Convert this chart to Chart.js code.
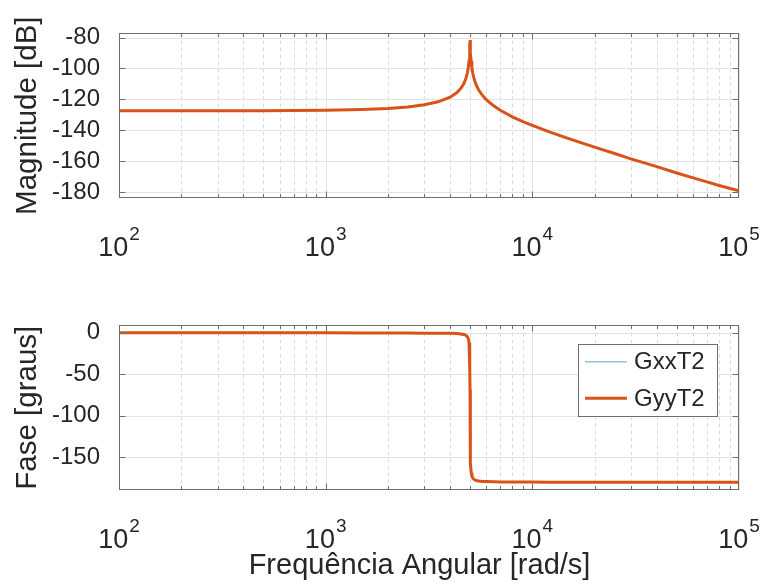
<!DOCTYPE html>
<html>
<head>
<meta charset="utf-8">
<script src="https://cdn.jsdelivr.net/npm/chart.js@4.4.1/dist/chart.umd.min.js"></script>
<style>
  body { margin: 0; background: #fff; }
  #wrap { position: relative; width: 764px; height: 585px; }
  canvas { position: absolute; left: 0; }
</style>
</head>
<body>
<div id="wrap">
  <canvas id="magChart" width="764" height="292" style="top:0"></canvas>
  <canvas id="phaseChart" width="764" height="293" style="top:292px"></canvas>
</div>
<script>
// Bode data, frequency in rad/s
const omega = [100, 150, 200, 300, 500, 700, 1000, 1500, 2000, 2500, 3000, 3500, 4000, 4300, 4500,
  4650, 4750, 4850, 4900, 4940, 4970, 4985, 4995, 5000, 5005, 5015, 5030, 5060, 5100, 5150, 5250,
  5350, 5500, 5750, 6000, 6500, 7000, 8000, 9000, 10000, 12000, 15000, 20000, 25000, 30000,
  40000, 50000, 60000, 70000, 80000, 100000];

const gyyMag = [-127.4, -127.39, -127.39, -127.37, -127.31, -127.23, -127.05, -126.58, -125.89, -124.9,
  -123.52, -121.55, -118.53, -115.71, -112.98, -110.01, -107.18, -102.83, -99.35, -95.14, -89.67,
  -85.3, -82.12, -81.5, -82.12, -85.32, -89.73, -95.25, -99.53, -103.09, -107.61, -110.62, -113.96,
  -117.57, -120.27, -124.18, -127.05, -131.26, -134.4, -136.8, -140.9, -145.4, -150.9, -155.0,
  -158.5, -163.5, -167.6, -170.8, -173.4, -175.7, -179.2];

const gyyPhase = [0, 0, 0, -0.01, -0.02, -0.03, -0.06, -0.12, -0.2, -0.32, -0.45, -0.66, -0.65, -0.96, -1.38,
  -2.0, -2.83, -4.76, -7.15, -11.86, -22.83, -40.1, -68.5, -90, -111.5, -139.9, -157.2, -168.2,
  -172.7, -175.1, -177.0, -177.9, -178.5, -179.0, -179.2, -179.45, -179.6, -179.7, -179.77, -179.8,
  -179.85, -179.9, -179.92, -179.94, -179.95, -179.96, -179.97, -179.97, -179.98, -179.98, -179.98];

// GxxT2 sits exactly underneath GyyT2
const gxxMag = gyyMag.slice();
const gxxPhase = gyyPhase.slice();

const xDecades = [100, 1000, 10000, 100000];
const magTicks = [-180, -160, -140, -120, -100, -80];
const phaseTicks = [-150, -100, -50, 0];

const FONT = "'Liberation Sans', Arial, Helvetica, sans-serif";
const INK = '#262626';

function pts(ys) {
  return omega.map((w, i) => ({ x: w, y: ys[i] }));
}

// MATLAB-like axes: grid, box, inward ticks and 10^n labels
const matlabAxes = {
  id: 'matlabAxes',
  beforeDatasetsDraw(chart) {
    const { ctx, chartArea: a, scales: { x, y } } = chart;
    ctx.save();
    ctx.lineWidth = 1;
    // minor x grid
    ctx.strokeStyle = '#dcdcdc';
    ctx.setLineDash([4, 3]);
    xDecades.slice(0, -1).forEach(d => {
      for (let m = 2; m <= 9; m++) {
        const px = Math.round(x.getPixelForValue(d * m)) + 0.5;
        ctx.beginPath(); ctx.moveTo(px, a.top); ctx.lineTo(px, a.bottom); ctx.stroke();
      }
    });
    ctx.setLineDash([]);
    ctx.strokeStyle = '#e3e3e3';
    xDecades.forEach(d => {
      const px = Math.round(x.getPixelForValue(d)) + 0.5;
      ctx.beginPath(); ctx.moveTo(px, a.top); ctx.lineTo(px, a.bottom); ctx.stroke();
    });
    y.ticks.forEach(t => {
      const py = Math.round(y.getPixelForValue(t.value)) + 0.5;
      ctx.beginPath(); ctx.moveTo(a.left, py); ctx.lineTo(a.right, py); ctx.stroke();
    });
    ctx.restore();
  },
  afterDatasetsDraw(chart) {
    const { ctx, chartArea: a, scales: { x, y } } = chart;
    ctx.save();
    ctx.strokeStyle = '#6e6e6e';
    ctx.lineWidth = 1;
    const L = Math.round(a.left) + 0.5, R = Math.round(a.right) - 0.5;
    const T = Math.round(a.top) + 0.5, B = Math.round(a.bottom) - 0.5;
    ctx.strokeRect(L, T, R - L, B - T);
    ctx.beginPath();
    xDecades.slice(0, -1).forEach(d => {
      for (let m = 1; m <= 9; m++) {
        const len = m === 1 ? 6 : 3.5;
        const px = Math.round(x.getPixelForValue(d * m)) + 0.5;
        ctx.moveTo(px, B); ctx.lineTo(px, B - len);
        ctx.moveTo(px, T); ctx.lineTo(px, T + len);
      }
    });
    y.ticks.forEach(t => {
      const py = Math.round(y.getPixelForValue(t.value)) + 0.5;
      ctx.moveTo(L, py); ctx.lineTo(L + 6, py);
      ctx.moveTo(R, py); ctx.lineTo(R - 6, py);
    });
    ctx.stroke();
    ctx.restore();
  },
  afterDraw(chart) {
    const { ctx, chartArea: a, scales: { x } } = chart;
    ctx.save();
    ctx.fillStyle = INK;
    ctx.textBaseline = 'alphabetic';
    xDecades.forEach(d => {
      const px = x.getPixelForValue(d);
      const exp = String(Math.round(Math.log10(d)));
      ctx.font = '27px ' + FONT;
      const wBase = ctx.measureText('10').width;
      ctx.font = '19px ' + FONT;
      const wExp = ctx.measureText(exp).width;
      const start = px - (wBase + wExp + 1) / 2;
      ctx.font = '27px ' + FONT;
      ctx.fillText('10', start, a.bottom + 58);
      ctx.font = '19px ' + FONT;
      ctx.fillText(exp, start + wBase + 1, a.bottom + 41.5);
    });
    // x axis title (only on the lower plot)
    const xt = chart.options.plugins.matlabAxes.xTitle;
    if (xt) {
      ctx.font = '29px ' + FONT;
      ctx.textAlign = 'center';
      ctx.fillText(xt, 419.5, a.bottom + 84);
    }
    ctx.restore();
  }
};

// legend box inside the phase plot
const boxLegend = {
  id: 'boxLegend',
  afterDraw(chart) {
    const ctx = chart.ctx;
    ctx.save();
    ctx.fillStyle = '#fff';
    ctx.fillRect(578.5, 52.5, 139, 72);
    ctx.strokeStyle = '#6e6e6e';
    ctx.lineWidth = 1;
    ctx.strokeRect(578.5, 52.5, 139, 72);
    const rows = [69.7, 106.3];
    chart.data.datasets.forEach((ds, i) => {
      ctx.strokeStyle = ds.borderColor;
      ctx.lineWidth = ds.borderWidth;
      ctx.beginPath(); ctx.moveTo(585, rows[i]); ctx.lineTo(627, rows[i]); ctx.stroke();
      ctx.fillStyle = INK;
      ctx.font = '24px ' + FONT;
      ctx.textBaseline = 'middle';
      ctx.fillText(ds.label, 634, rows[i] + 1);
    });
    ctx.restore();
  }
};

function bodeChart(id, gxx, gyy, yMin, yMax, yTicks, yTitle, xTitle, extra) {
  return new Chart(document.getElementById(id), {
    type: 'line',
    data: {
      datasets: [
        { label: 'GxxT2', data: pts(gxx), borderColor: '#8cc4ea', borderWidth: 1.5, order: 1 },
        { label: 'GyyT2', data: pts(gyy), borderColor: '#d95319', borderWidth: 3, order: 0 }
      ]
    },
    options: {
      responsive: false,
      animation: false,
      layout: { padding: { left: 0, right: 25, top: 29, bottom: 0 } },
      elements: { point: { radius: 0 }, line: { tension: 0 } },
      plugins: {
        legend: { display: false },
        tooltip: { enabled: false },
        matlabAxes: { xTitle: xTitle }
      },
      scales: {
        x: {
          type: 'logarithmic',
          min: 100,
          max: 100000,
          afterFit: s => { s.height = s.chart.height - 29 - 169; },
          grid: { display: false, drawTicks: false },
          border: { display: false },
          ticks: { display: false }
        },
        y: {
          min: yMin,
          max: yMax,
          afterBuildTicks: s => { s.ticks = yTicks.map(v => ({ value: v })); },
          afterFit: s => { s.width = 119; },
          grid: { display: false, drawTicks: false },
          border: { display: false },
          ticks: { padding: 19, color: INK, font: { family: FONT, size: 24 } },
          title: {
            display: true,
            text: yTitle,
            color: INK,
            font: { family: FONT, size: 29.5 },
            padding: { top: 10, bottom: 0 }
          }
        }
      }
    },
    plugins: [matlabAxes].concat(extra)
  });
}

bodeChart('magChart', gxxMag, gyyMag, -183.8, -77.3, magTicks, 'Magnitude [dB]', '', []);
bodeChart('phaseChart', gxxPhase, gyyPhase, -189.3, 8.9, phaseTicks, 'Fase [graus]', 'Frequência Angular [rad/s]', [boxLegend]);
</script>
</body>
</html>
